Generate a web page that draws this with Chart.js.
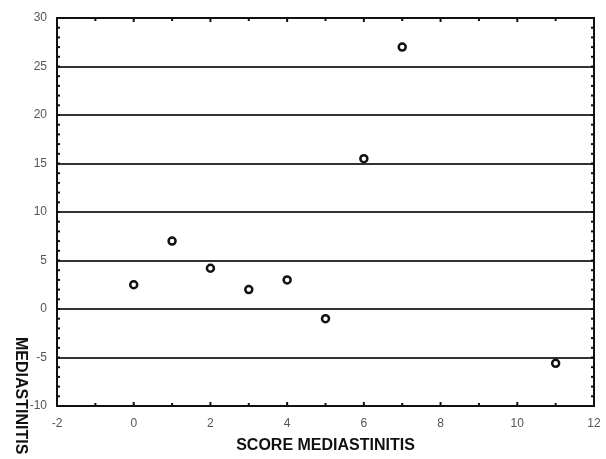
<!DOCTYPE html>
<html>
<head>
<meta charset="utf-8">
<script src="https://cdn.jsdelivr.net/npm/chart.js@4"></script>
<style>
  html, body { margin: 0; padding: 0; background: #fff; }
  #wrap { width: 606px; height: 459px; }
</style>
</head>
<body>
<div id="wrap"><canvas id="scatter"></canvas></div>
<script>
// data
var scores = [0, 1, 2, 3, 4, 5, 6, 7, 11];
var values = [2.5, 7, 4.2, 2, 3, -1, 15.5, 27, -5.6];
var xTitle = "SCORE MEDIASTINITIS";
var yTitle = "MEDIASTINITIS";

var points = scores.map(function (s, i) { return { x: s, y: values[i] }; });

// frame, inner minor ticks and the rotated y title
var framePlugin = {
    id: "frame",
    afterDraw: function (chart) {
        var ctx = chart.ctx;
        var a = chart.chartArea;
        var xs = chart.scales.x, ys = chart.scales.y;
        ctx.save();
        ctx.strokeStyle = "#111";
        ctx.lineWidth = 2;
        ctx.strokeRect(a.left, a.top, a.right - a.left, a.bottom - a.top);

        var v, p;
        for (v = ys.min + 1; v < ys.max; v++) {
            p = ys.getPixelForValue(v);
            ctx.beginPath(); ctx.moveTo(a.left, p); ctx.lineTo(a.left + 3, p); ctx.stroke();
            ctx.beginPath(); ctx.moveTo(a.right, p); ctx.lineTo(a.right - 3, p); ctx.stroke();
        }
        for (v = xs.min + 1; v < xs.max; v++) {
            p = xs.getPixelForValue(v);
            var len = (v % 2 === 0) ? 4 : 3;
            ctx.beginPath(); ctx.moveTo(p, a.bottom); ctx.lineTo(p, a.bottom - len); ctx.stroke();
            ctx.beginPath(); ctx.moveTo(p, a.top); ctx.lineTo(p, a.top + len); ctx.stroke();
        }

        ctx.translate(12, 337);
        ctx.rotate(Math.PI / 2);
        ctx.fillStyle = "#111";
        ctx.font = "bold 16px 'Liberation Sans', Arial, sans-serif";
        ctx.textAlign = "left";
        ctx.textBaseline = "bottom";
        ctx.fillText(yTitle, 0, 0);
        ctx.restore();
    }
};

var ctx1 = document.getElementById("scatter");

var chart1 = new Chart(ctx1, {
    type: "scatter",
    data: {
        datasets: [
            {
                label: "Mediastinitis",
                data: points,
                pointStyle: "circle",
                pointRadius: 3.5,
                pointBorderWidth: 2.5,
                pointBorderColor: "#111",
                pointBackgroundColor: "#fff"
            }
        ]
    },
    options: {
        responsive: true,
        maintainAspectRatio: false,
        animation: false,
        layout: { padding: { top: 18, right: 12, left: 0, bottom: 0 } },
        plugins: {
            legend: { display: false },
            tooltip: { enabled: false }
        },
        scales: {
            x: {
                type: "linear",
                min: -2,
                max: 12,
                ticks: {
                    stepSize: 2,
                    padding: 10,
                    color: "#555",
                    font: { family: "'Liberation Sans', Arial, sans-serif", size: 12 }
                },
                grid: { display: false, drawTicks: false },
                border: { display: false },
                title: {
                    display: true,
                    text: xTitle,
                    color: "#111",
                    font: { family: "'Liberation Sans', Arial, sans-serif", size: 16, weight: "bold" },
                    padding: { top: 4, bottom: 4 }
                },
                afterFit: function (scale) {
                    scale.height = 53;
                    scale.paddingLeft = 0;
                    scale.paddingRight = 0;
                }
            },
            y: {
                type: "linear",
                min: -10,
                max: 30,
                ticks: {
                    stepSize: 5,
                    padding: 10,
                    color: "#555",
                    font: { family: "'Liberation Sans', Arial, sans-serif", size: 12 }
                },
                grid: {
                    color: "#333",
                    lineWidth: 2,
                    drawTicks: false
                },
                border: { display: false },
                afterFit: function (scale) { scale.width = 57; }
            }
        }
    },
    plugins: [framePlugin]
});
</script>
</body>
</html>
